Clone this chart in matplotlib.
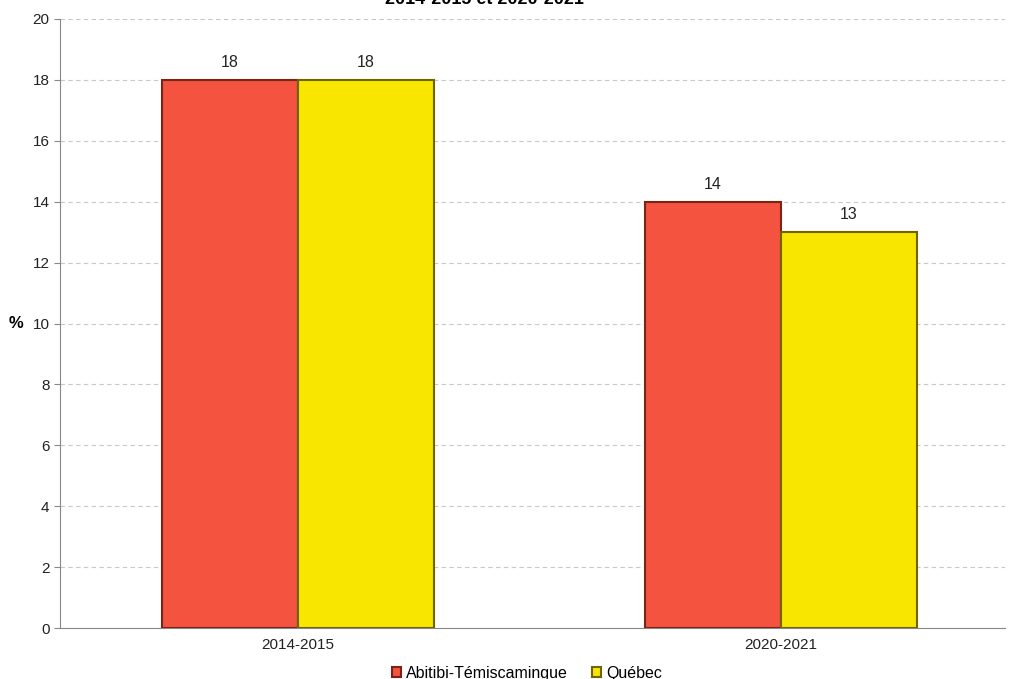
import numpy as np
import matplotlib.pyplot as plt

plt.rcParams['font.family'] = ['Liberation Sans', 'DejaVu Sans']

periods = ['2014-2015', '2020-2021']
series_names = ['Abitibi-Témiscamingue', 'Québec']
abitibi = [18, 14]
quebec = [18, 13]
title = '2014-2015 et 2020-2021'

colors = ['#F4533F', '#F8E500']
edges = ['#7A2418', '#6E6400']

fig = plt.figure(figsize=(10.10, 6.79), dpi=100)
ax = fig.add_axes([60 / 1010, 1 - 628 / 679, 945 / 1010, 609 / 679])

x = np.arange(len(periods))
w = 0.282
for vals, name, c, e, off in zip([abitibi, quebec], series_names, colors, edges, [-w / 2, w / 2]):
    bars = ax.bar(x + off, vals, width=w, color=c, edgecolor=e, linewidth=1.5,
                  label=name, zorder=3)
    for b, v in zip(bars, vals):
        ax.text(b.get_x() + b.get_width() / 2, v + 0.32, f'{v}', ha='center', va='bottom',
                fontsize=11.5, color='#222222')

ax.set_xlim(-0.493, 1.464)
ax.set_ylim(0, 20)
ax.set_yticks(range(0, 21, 2))
ax.set_xticks(x)
ax.set_xticklabels(periods)
ax.tick_params(axis='both', labelsize=11, colors='#222222', length=4, color='#888888')
ax.tick_params(axis='x', length=0, pad=7)
ax.yaxis.grid(True, linestyle=(0, (4, 3)), color='#C8C8C8', linewidth=0.8, zorder=0)
for s in ['top', 'right']:
    ax.spines[s].set_visible(False)
ax.spines['left'].set_color('#888888')
ax.spines['bottom'].set_color('#888888')

ax.set_ylabel('%', rotation=0, fontsize=12, fontweight='bold', labelpad=12, va='center')

# title is clipped by the top edge, as in the source image
fig.text(484 / 1010, 1 - 4 / 679, title, ha='center', va='baseline',
         fontsize=13, fontweight='bold')

ax.legend(loc='lower center', bbox_to_anchor=(0.494, -0.097), ncol=2, frameon=False,
          fontsize=11.5, handlelength=0.6, handleheight=0.6, handletextpad=0.3,
          columnspacing=1.5, borderaxespad=0)

fig.savefig('out.png', dpi=100)
